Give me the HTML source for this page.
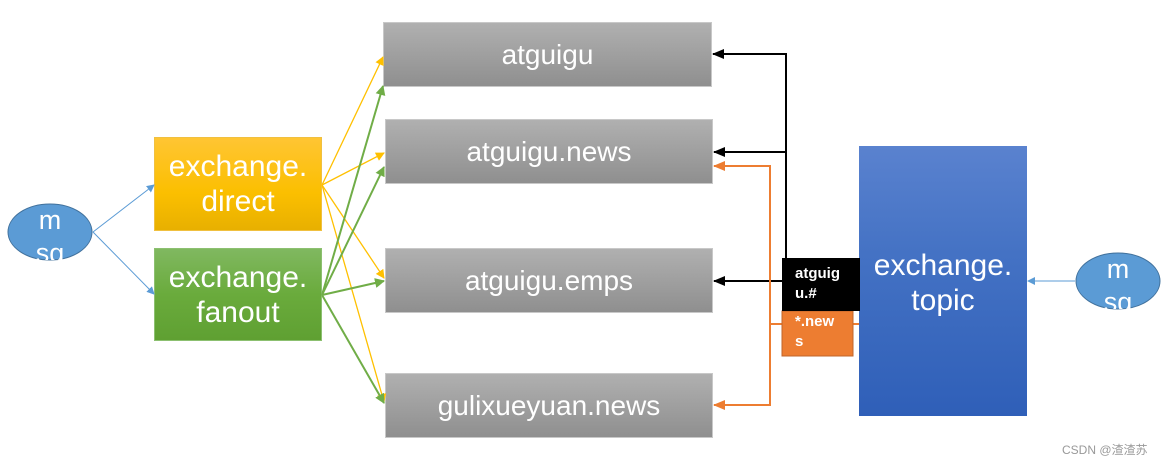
<!DOCTYPE html>
<html><head><style>
body{margin:0;background:#fff;width:1176px;height:466px;overflow:hidden;font-family:"Liberation Sans",sans-serif}
.q{position:absolute;background:linear-gradient(#b0b0b0,#8f8f8f);border:1px solid #c8c8c8;color:#fff;font-size:28px;display:flex;align-items:center;justify-content:center;box-sizing:border-box}
.ex{position:absolute;color:#fff;font-size:30px;text-align:center;line-height:35px;display:flex;align-items:center;justify-content:center;box-sizing:border-box}
</style></head><body>
<div class="q" style="left:383px;top:22px;width:329px;height:65px">atguigu</div>
<div class="q" style="left:385px;top:119px;width:328px;height:65px">atguigu.news</div>
<div class="q" style="left:385px;top:248px;width:328px;height:65px">atguigu.emps</div>
<div class="q" style="left:385px;top:373px;width:328px;height:65px">gulixueyuan.news</div>
<div class="ex" style="left:154px;top:137px;width:168px;height:94px;background:linear-gradient(#ffc533,#fbbf00 60%,#e8b000);border:1px solid #f0c040">exchange.<br>direct</div>
<div class="ex" style="left:154px;top:248px;width:168px;height:93px;background:linear-gradient(#80b860,#6aab3c 50%,#5fa032);border:1px solid #8cc070">exchange.<br>fanout</div>
<div class="ex" style="left:859px;top:146px;width:168px;height:270px;background:linear-gradient(#5a82cf,#4472c4 40%,#2f5fb8);align-items:flex-start;padding-top:102px">exchange.<br>topic</div>
<svg width="1176" height="466" style="position:absolute;left:0;top:0">
<defs>
<marker id="b" markerWidth="8" markerHeight="8" refX="7" refY="4" orient="auto" markerUnits="userSpaceOnUse"><path d="M0,0L8,4L0,8z" fill="#5b9bd5"/></marker>
<marker id="y" markerWidth="9" markerHeight="9" refX="8" refY="4.5" orient="auto" markerUnits="userSpaceOnUse"><path d="M0,0L9,4.5L0,9z" fill="#ffc000"/></marker>
<marker id="g" markerWidth="10" markerHeight="10" refX="9" refY="5" orient="auto" markerUnits="userSpaceOnUse"><path d="M0,0L10,5L0,10z" fill="#70ad47"/></marker>
<marker id="k" markerWidth="12" markerHeight="10" refX="11" refY="5" orient="auto" markerUnits="userSpaceOnUse"><path d="M0,0L12,5L0,10z" fill="#000"/></marker>
<marker id="o" markerWidth="12" markerHeight="10" refX="11" refY="5" orient="auto" markerUnits="userSpaceOnUse"><path d="M0,0L12,5L0,10z" fill="#ed7d31"/></marker>
</defs>
<g stroke="#5b9bd5" stroke-width="1" fill="none">
<line x1="93" y1="232" x2="154" y2="185" marker-end="url(#b)"/>
<line x1="93" y1="232" x2="154" y2="294" marker-end="url(#b)"/>
<line x1="1075" y1="281" x2="1028" y2="281" marker-end="url(#b)"/>
</g>
<g stroke="#ffc000" stroke-width="1.3" fill="none">
<line x1="322" y1="185" x2="383" y2="57" marker-end="url(#y)"/>
<line x1="322" y1="185" x2="384" y2="153" marker-end="url(#y)"/>
<line x1="322" y1="185" x2="384" y2="278" marker-end="url(#y)"/>
<line x1="322" y1="185" x2="384" y2="402" marker-end="url(#y)"/>
</g>
<g stroke="#70ad47" stroke-width="2" fill="none">
<line x1="322" y1="295" x2="383" y2="86" marker-end="url(#g)"/>
<line x1="322" y1="295" x2="384" y2="167" marker-end="url(#g)"/>
<line x1="322" y1="295" x2="384" y2="281" marker-end="url(#g)"/>
<line x1="322" y1="295" x2="384" y2="403" marker-end="url(#g)"/>
</g>
<g stroke="#000" stroke-width="2" fill="none">
<polyline points="786,258 786,54 713,54" marker-end="url(#k)"/>
<polyline points="786,152 714,152" marker-end="url(#k)"/>
<polyline points="782,281 714,281" marker-end="url(#k)"/>
</g>
<g stroke="#ed7d31" stroke-width="2" fill="none">
<polyline points="782,324 770,324 770,166 714,166" marker-end="url(#o)"/>
<polyline points="770,324 770,405 714,405" marker-end="url(#o)"/>
<line x1="853" y1="324" x2="859" y2="324"/>
</g>
<ellipse cx="50" cy="232" rx="42" ry="28" fill="#5b9bd5" stroke="#41719c" stroke-width="1"/>
<ellipse cx="1118" cy="281" rx="42" ry="28" fill="#5b9bd5" stroke="#41719c" stroke-width="1"/>
<rect x="782" y="311" width="71" height="45" fill="#ed7d31" stroke="#c0652a"/>
<rect x="782" y="258" width="78" height="53" fill="#000"/>
</svg>
<div style="position:absolute;left:8px;top:204px;width:84px;height:56px;overflow:hidden;color:#fff;font-size:27px;text-align:center;line-height:33px">m<br>sg</div>
<div style="position:absolute;left:1076px;top:253px;width:84px;height:56px;overflow:hidden;color:#fff;font-size:27px;text-align:center;line-height:33px">m<br>sg</div>
<div style="position:absolute;left:795px;top:264px;color:#fff;font-weight:bold;font-size:15px;line-height:20px">atguig<br>u.#</div>
<div style="position:absolute;left:795px;top:312px;color:#fff;font-weight:bold;font-size:15px;line-height:20px">*.new<br>s</div>
<div style="position:absolute;left:1062px;top:441px;color:#999;font-size:12px;font-family:'Liberation Sans','Noto Sans CJK SC',sans-serif">CSDN @渣渣苏</div>
</body></html>
